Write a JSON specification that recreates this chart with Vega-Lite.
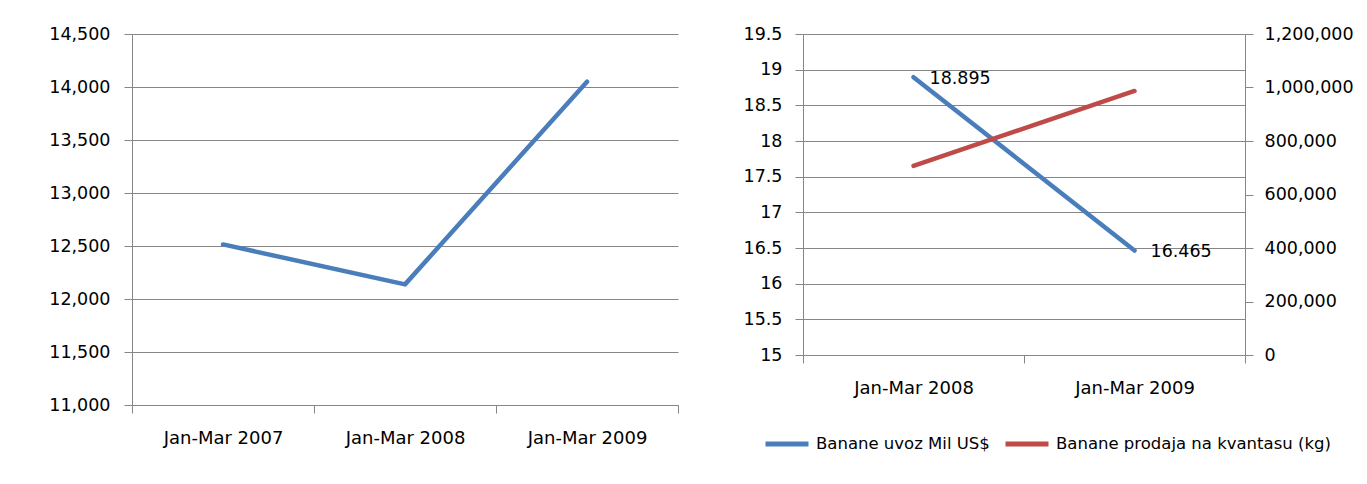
{
  "$schema": "https://vega.github.io/schema/vega-lite/v6.json",
  "background": "white",
  "padding": {"left": 48, "top": 25, "right": 5, "bottom": 5},
  "spacing": 64,
  "resolve": {"legend": {"color": "independent"}, "scale": {"color": "independent"}},
  "config": {
    "view": {"stroke": null},
    "font": "DejaVu Sans",
    "axis": {
      "labelFont": "DejaVu Sans",
      "labelFontSize": 17.5,
      "labelColor": "#000000",
      "gridColor": "#868686",
      "gridWidth": 1,
      "domainColor": "#868686",
      "tickColor": "#868686",
      "tickSize": 8,
      "labelPadding": 13,
      "labelOverlap": false
    }
  },
  "hconcat": [
    {
      "width": 546,
      "height": 371,
      "data": {"values": [
        {"period": "Jan-Mar 2007", "value": 12515},
        {"period": "Jan-Mar 2008", "value": 12138},
        {"period": "Jan-Mar 2009", "value": 14050}
      ]},
      "mark": {"type": "line", "color": "#4A7EBB", "strokeWidth": 4.5, "strokeCap": "round", "strokeJoin": "round"},
      "encoding": {
        "x": {"field": "period", "type": "ordinal", "sort": null,
          "scale": {"type": "band", "paddingInner": 0, "paddingOuter": 0},
          "axis": {"title": null, "labelAngle": 0, "tickBand": "extent", "grid": false, "labelFontSize": 18, "labelPadding": 16}},
        "y": {"field": "value", "type": "quantitative",
          "scale": {"domain": [11000, 14500], "nice": false, "zero": false},
          "axis": {"title": null, "values": [11000, 11500, 12000, 12500, 13000, 13500, 14000, 14500], "format": ",.0f", "grid": true, "labelPadding": 14}}
      }
    },
    {
      "width": 442,
      "height": 321,
      "data": {"values": [
        {"period": "Jan-Mar 2008", "series": "Banane uvoz Mil US$", "value": 18.895},
        {"period": "Jan-Mar 2009", "series": "Banane uvoz Mil US$", "value": 16.465},
        {"period": "Jan-Mar 2008", "series": "Banane prodaja na kvantasu (kg)", "value": 707000},
        {"period": "Jan-Mar 2009", "series": "Banane prodaja na kvantasu (kg)", "value": 987000}
      ]},
      "encoding": {
        "x": {"field": "period", "type": "ordinal", "sort": null,
          "scale": {"type": "band", "paddingInner": 0, "paddingOuter": 0},
          "axis": {"title": null, "labelAngle": 0, "tickBand": "extent", "grid": false, "labelFontSize": 18, "labelPadding": 16}}
      },
      "layer": [
        {
          "transform": [{"filter": "datum.series === 'Banane uvoz Mil US$'"}],
          "encoding": {
            "y": {"field": "value", "type": "quantitative",
              "scale": {"domain": [15, 19.5], "nice": false, "zero": false},
              "axis": {"title": null, "values": [15, 15.5, 16, 16.5, 17, 17.5, 18, 18.5, 19, 19.5], "format": ".1~f", "grid": true, "labelPadding": 13}}
          },
          "layer": [
            {
              "mark": {"type": "line", "strokeWidth": 4.5, "strokeCap": "round", "strokeJoin": "round"},
              "encoding": {
                "color": {"field": "series", "type": "nominal",
                  "scale": {"domain": ["Banane uvoz Mil US$", "Banane prodaja na kvantasu (kg)"], "range": ["#4A7EBB", "#BE4B48"]},
                  "legend": {"title": null, "orient": "none", "direction": "horizontal", "legendX": -40, "legendY": 386,
                    "symbolType": "stroke", "symbolSize": 1849, "symbolStrokeWidth": 5,
                    "labelFont": "DejaVu Sans", "labelFontSize": 16.5, "labelColor": "#000000", "labelOffset": 5,
                    "columnPadding": 5, "labelLimit": 500, "padding": 0}}
              }
            },
            {
              "mark": {"type": "text", "align": "left", "baseline": "middle", "dx": 16, "dy": 2, "fontSize": 17.5, "color": "#000000", "font": "DejaVu Sans"},
              "encoding": {
                "text": {"field": "value", "type": "quantitative", "format": ".3f"}
              }
            }
          ]
        },
        {
          "transform": [{"filter": "datum.series === 'Banane prodaja na kvantasu (kg)'"}],
          "mark": {"type": "line", "strokeWidth": 4.5, "strokeCap": "round", "strokeJoin": "round"},
          "encoding": {
            "y": {"field": "value", "type": "quantitative",
              "scale": {"domain": [0, 1200000], "nice": false},
              "axis": {"title": null, "orient": "right", "values": [0, 200000, 400000, 600000, 800000, 1000000, 1200000], "format": ",.0f", "grid": false, "labelPadding": 11}},
            "color": {"field": "series", "type": "nominal"}
          }
        }
      ],
      "resolve": {"scale": {"y": "independent"}}
    }
  ]
}
